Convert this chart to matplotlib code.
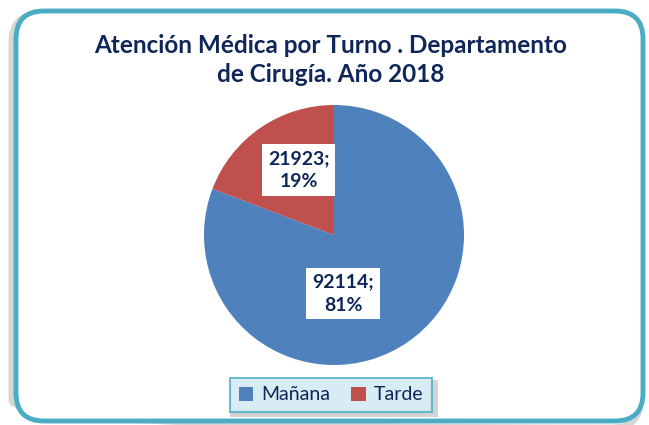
import matplotlib
matplotlib.use("Agg")
import matplotlib.pyplot as plt
from matplotlib.patches import FancyBboxPatch

categories = ["Mañana", "Tarde"]
values = [92114, 21923]
percents = ["81%", "19%"]
colors = ["#4F81BD", "#C0504D"]
title = "Atención Médica por Turno . Departamento\nde Cirugía. Año 2018"

W, H = 649, 425
fig = plt.figure(figsize=(W / 100, H / 100), dpi=100)
plt.rcParams['font.family'] = ['Lato', 'DejaVu Sans']
navy = "#0F2658"

# overlay in pixel coords for the frame
bg = fig.add_axes([0, 0, 1, 1])
bg.set_xlim(0, W)
bg.set_ylim(H, 0)
bg.axis("off")
shadow = FancyBboxPatch((12, 14), 628, 414, boxstyle="round,pad=0,rounding_size=28",
                        facecolor="none", edgecolor="#BBBBBB", linewidth=5, alpha=0.6)
bg.add_patch(shadow)
frame = FancyBboxPatch((16, 11), 627, 410, boxstyle="round,pad=0,rounding_size=28",
                       facecolor="white", edgecolor="#4BACC6", linewidth=3.5)
bg.add_patch(frame)

fig.text(331 / W, 1 - 60 / H, title, ha="center", va="center", fontsize=17.5,
         fontweight="bold", color=navy, linespacing=1.32)

cx, cy, r = 334, 235, 130
ax = fig.add_axes([(cx - r) / W, 1 - (cy + r) / H, 2 * r / W, 2 * r / H])
wedges, _ = ax.pie(values, colors=colors, startangle=90, counterclock=False,
                   radius=1.0)
ax.set_xlim(-1, 1)
ax.set_ylim(-1, 1)
ax.set_aspect("equal")

label_pos = [(0.07, -0.45), (-0.27, 0.5)]
for v, p, (x, y) in zip(values, percents, label_pos):
    ax.text(x, y, f"{v};\n{p}", ha="center", va="center", fontsize=14,
            fontweight="bold", color=navy, linespacing=1.45,
            bbox=dict(boxstyle="square,pad=0.3", facecolor="white", edgecolor="none"))

# legend shadow
shadow_leg = FancyBboxPatch((230, 380), 208, 37, boxstyle="square,pad=0",
                            facecolor="#AAAAAA", edgecolor="none", alpha=0.5)
bg.add_patch(shadow_leg)

leg = fig.legend(wedges, categories, loc="center", bbox_to_anchor=(331 / W, 1 - 395 / H),
                 ncol=2, frameon=True, fontsize=14, handlelength=0.75, handleheight=0.75,
                 handletextpad=0.4, columnspacing=1.1, borderpad=0.45, fancybox=False)
leg.get_frame().set_facecolor("#DAF3FD")
leg.get_frame().set_edgecolor("#4BACC6")
leg.get_frame().set_linewidth(1.5)
for t in leg.get_texts():
    t.set_color(navy)

fig.savefig("out.png", dpi=100)
